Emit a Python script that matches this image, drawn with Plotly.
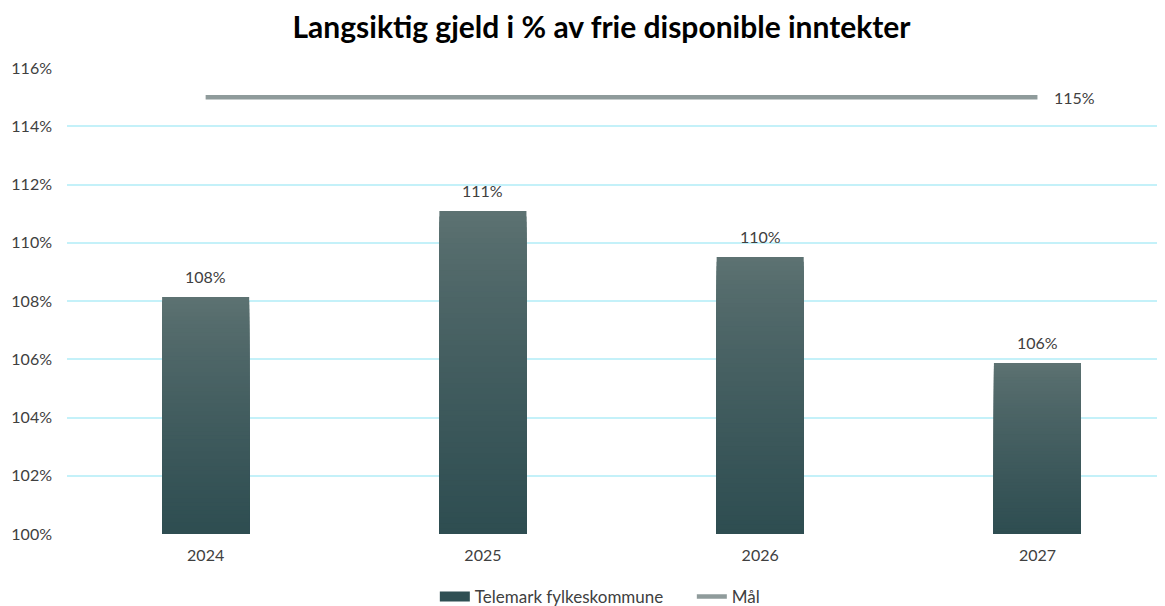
import plotly.graph_objects as go

years = ["2024", "2025", "2026", "2027"]
gjeld = [108.14, 111.09, 109.51, 105.87]
maal = [115, 115, 115, 115]

FONT = "Lato"
TOP_COL = (93, 114, 114)
BOT_COL = (46, 77, 81)
BAR_LEGEND_COL = "#2f4f53"
BASE = 100

# the page body adds an 8px margin, so the figure is made 8px smaller
W, H = 1157, 598

fig = go.Figure()

# bars drawn as overlaid layers to fake the vertical gradient fill
n_layers = 60
for k in range(n_layers):
    frac = 1 - k / n_layers
    t = (k / (n_layers - 1)) ** 0.8
    col = tuple(round(a + (b - a) * t) for a, b in zip(TOP_COL, BOT_COL))
    fig.add_trace(go.Bar(
        x=years,
        y=[(v - BASE) * frac for v in gjeld],
        base=BASE,
        width=0.314,
        marker=dict(color="rgb(%d,%d,%d)" % col, line=dict(width=0)),
        showlegend=False,
        hoverinfo="skip",
    ))

# legend entry for the bars (wide swatch like the original)
fig.add_trace(go.Scatter(
    x=[None], y=[None],
    mode="lines",
    name="Telemark fylkeskommune",
    line=dict(color=BAR_LEGEND_COL, width=12),
    legendrank=1,
))

fig.add_trace(go.Scatter(
    x=years,
    y=maal,
    mode="lines",
    name="Mål",
    line=dict(color="#8f9b9b", width=4.5),
    legendrank=2,
    cliponaxis=False,
))

for i, v in enumerate(gjeld):
    fig.add_annotation(
        x=i, y=v, text=f"{v:.0f}%",
        showarrow=False, yanchor="bottom", yshift=9,
        font=dict(family=FONT, size=16, color="#404040"),
    )

fig.add_annotation(
    x=len(years) - 1, y=maal[-1], text=f"{maal[-1]}%",
    showarrow=False, xanchor="left", xshift=15,
    font=dict(family=FONT, size=16, color="#404040"),
)

fig.update_layout(
    width=W,
    height=H,
    barmode="overlay",
    plot_bgcolor="white",
    paper_bgcolor="white",
    margin=dict(l=59, r=0, t=60, b=72, autoexpand=False),
    font=dict(family=FONT, size=16, color="#404040"),
    title=dict(
        text="<b>Langsiktig gjeld i % av frie disponible inntekter</b>",
        x=0.513, xanchor="center",
        y=0.968, yanchor="middle",
        font=dict(family=FONT, size=30, color="#000000"),
    ),
    xaxis=dict(
        type="category",
        range=[-0.5, 3.46],
        showgrid=False,
        showline=False,
        ticks="",
        ticklabelstandoff=10,
        tickfont=dict(family=FONT, size=16, color="#404040"),
    ),
    yaxis=dict(
        range=[100, 116],
        dtick=2,
        ticksuffix="%",
        showgrid=True,
        gridcolor="#c4f1f9",
        gridwidth=2,
        zeroline=False,
        showline=False,
        ticks="",
        ticklabelstandoff=14,
        tickfont=dict(family=FONT, size=16, color="#404040"),
    ),
    legend=dict(
        orientation="h",
        x=0.335, xanchor="left",
        y=-0.135, yanchor="middle",
        entrywidth=212,
        entrywidthmode="pixels",
        font=dict(family=FONT, size=17, color="#404040"),
        traceorder="normal",
    ),
    showlegend=True,
)

fig.write_html("out.html")
